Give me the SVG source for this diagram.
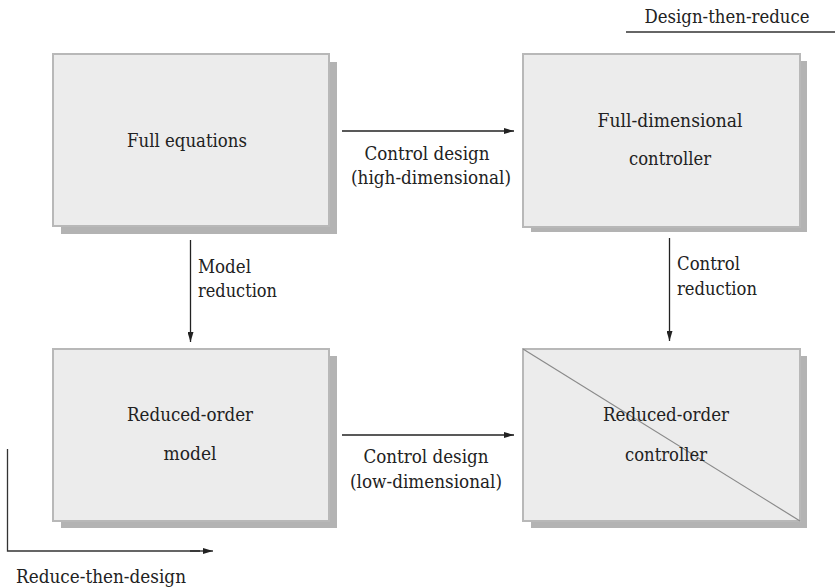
<svg xmlns="http://www.w3.org/2000/svg" width="835" height="587" viewBox="0 0 835 587">
<defs>
<marker id="ah" viewBox="0 0 10 6" refX="10" refY="3" markerWidth="10" markerHeight="6" markerUnits="userSpaceOnUse" orient="auto">
<path d="M0,0 L10,3 L0,6 Z" fill="#222"/>
</marker>
<style>
.shadow{fill:#b3b3b3;}
.box{fill:#ececec;stroke:#b8b8b8;stroke-width:2;}
.t{font-size:19px;fill:#222;}
.c{text-anchor:middle;}
.ln{stroke:#333;stroke-width:1.3;fill:none;}
.arr{stroke:#222;stroke-width:1.3;fill:none;marker-end:url(#ah);}
</style>
</defs>
<rect width="835" height="587" fill="#fff"/>

<g font-family="'DejaVu Serif', 'Liberation Serif', serif">
<g id="full-equations">
<rect class="shadow" x="61" y="62" width="276" height="172"/>
<rect class="box" x="53" y="54" width="276" height="172"/>
<text class="t c" x="187" y="147" textLength="120" lengthAdjust="spacingAndGlyphs">Full equations</text>
</g>

<g id="full-dimensional-controller">
<rect class="shadow" x="531" y="61" width="276" height="171"/>
<rect class="box" x="523" y="54" width="277" height="173"/>
<text class="t c" x="670" y="127" textLength="145" lengthAdjust="spacingAndGlyphs">Full-dimensional</text>
<text class="t c" x="670" y="165" textLength="82" lengthAdjust="spacingAndGlyphs">controller</text>
</g>

<g id="reduced-order-model">
<rect class="shadow" x="61" y="356" width="276" height="172"/>
<rect class="box" x="53" y="349" width="276" height="172"/>
<text class="t c" x="190" y="421" textLength="126" lengthAdjust="spacingAndGlyphs">Reduced-order</text>
<text class="t c" x="190" y="460" textLength="53" lengthAdjust="spacingAndGlyphs">model</text>
</g>

<g id="reduced-order-controller">
<rect class="shadow" x="531" y="356" width="276" height="172"/>
<rect class="box" x="523" y="349" width="277" height="172"/>
<line x1="523" y1="349" x2="800" y2="521" stroke="#8a8a8a" stroke-width="1.2"/>
<text class="t c" x="666" y="421" textLength="126" lengthAdjust="spacingAndGlyphs">Reduced-order</text>
<text class="t c" x="666" y="461" textLength="82" lengthAdjust="spacingAndGlyphs">controller</text>
</g>

<g id="connectors">
<line class="arr" x1="342" y1="131" x2="514" y2="131"/>
<line class="arr" x1="342" y1="435" x2="514" y2="435"/>
<line class="arr" x1="190.5" y1="240" x2="190.5" y2="342"/>
<line class="arr" x1="669.5" y1="238" x2="669.5" y2="341"/>
<line class="ln" x1="626" y1="32" x2="835" y2="32"/>
<polyline class="ln" points="7.5,449 7.5,551 200,551"/>
<line class="arr" x1="190" y1="551" x2="213" y2="551"/>
</g>

<g id="labels">
<text class="t c" x="427" y="160" textLength="125" lengthAdjust="spacingAndGlyphs">Control design</text>
<text class="t c" x="431" y="184" textLength="160" lengthAdjust="spacingAndGlyphs">(high-dimensional)</text>
<text class="t c" x="426" y="463" textLength="125" lengthAdjust="spacingAndGlyphs">Control design</text>
<text class="t c" x="426" y="488" textLength="152" lengthAdjust="spacingAndGlyphs">(low-dimensional)</text>
<text class="t" x="198" y="273" textLength="53" lengthAdjust="spacingAndGlyphs">Model</text>
<text class="t" x="198" y="297" textLength="79" lengthAdjust="spacingAndGlyphs">reduction</text>
<text class="t" x="677" y="270" textLength="63" lengthAdjust="spacingAndGlyphs">Control</text>
<text class="t" x="677" y="295" textLength="80" lengthAdjust="spacingAndGlyphs">reduction</text>
<text class="t c" x="727" y="23" textLength="165" lengthAdjust="spacingAndGlyphs">Design-then-reduce</text>
<text class="t" x="16" y="583" textLength="170" lengthAdjust="spacingAndGlyphs">Reduce-then-design</text>
</g>
</g>
</svg>
